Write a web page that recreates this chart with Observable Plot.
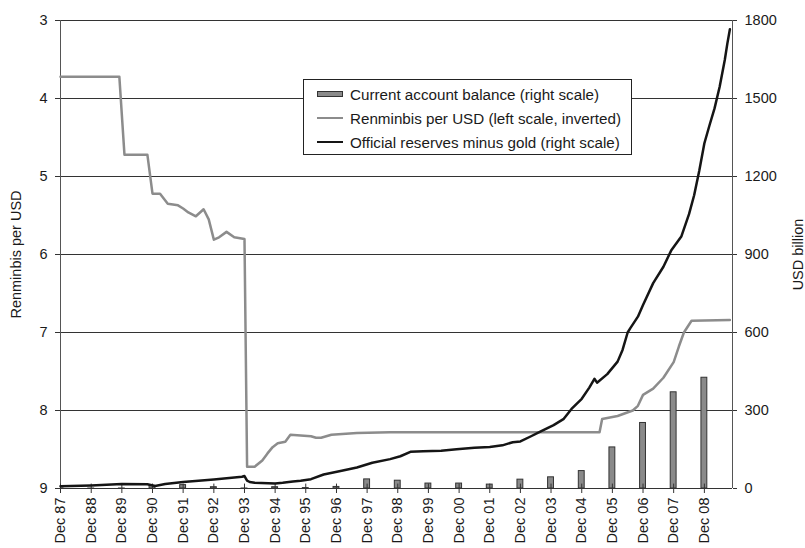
<!DOCTYPE html>
<html><head><meta charset="utf-8">
<script src="https://cdn.jsdelivr.net/npm/d3@7"></script>
<script src="https://cdn.jsdelivr.net/npm/@observablehq/plot@0.6"></script>
<style>
body{margin:0;background:#fff;}
#wrap{position:relative;width:805px;height:548px;font-family:"Liberation Sans",Arial,Helvetica,sans-serif;}
#legend{position:absolute;left:303px;top:79px;width:327px;height:74px;border:1px solid #222;background:#fff;font-size:15.2px;color:#1a1a1a;}
.row{position:absolute;left:0;height:24px;display:flex;align-items:center;white-space:nowrap;}
.sw{width:26px;margin-left:13px;margin-right:7px;box-sizing:border-box;}
</style></head><body><div id="wrap"></div>
<script>
// Renminbis per USD (left scale, inverted)
const rmbDates = ["1987-12","1989-11","1990-01","1990-10","1990-12","1991-03","1991-06","1991-10","1991-12","1992-02","1992-05","1992-08","1992-10","1992-12","1993-02","1993-05","1993-08","1993-12","1994-01","1994-04","1994-07","1994-09","1994-11","1995-01","1995-04","1995-06","1995-10","1996-02","1996-04","1996-06","1996-10","1997-08","1998-09","2005-07","2005-08","2006-02","2006-08","2006-10","2006-12","2007-04","2007-08","2007-12","2008-02","2008-04","2008-07","2009-10"];
const rmbValues = [3.72,3.72,4.72,4.72,5.22,5.22,5.35,5.37,5.41,5.46,5.51,5.42,5.55,5.81,5.78,5.71,5.78,5.80,8.72,8.72,8.64,8.55,8.47,8.42,8.40,8.31,8.32,8.33,8.35,8.35,8.31,8.29,8.28,8.28,8.11,8.07,8.00,7.94,7.80,7.72,7.58,7.38,7.18,7.00,6.85,6.84];
// Official reserves minus gold, USD billion (right scale)
const reserveDates = ["1987-12","1988-12","1989-12","1990-10","1991-01","1991-05","1991-12","1992-12","1993-11","1993-12","1994-01","1994-02","1994-04","1994-12","1995-03","1995-07","1995-10","1996-02","1996-07","1997-02","1997-08","1998-02","1998-09","1999-01","1999-05","1999-10","2000-05","2000-11","2001-06","2001-12","2002-05","2002-09","2002-12","2003-04","2003-08","2004-01","2004-05","2004-08","2004-12","2005-03","2005-05","2005-06","2005-10","2006-02","2006-04","2006-06","2006-07","2006-10","2006-12","2007-04","2007-08","2007-11","2008-03","2008-06","2008-08","2008-10","2008-12","2009-02","2009-04","2009-06","2009-08","2009-09","2009-10"];
const reserveValues = [9,12,17,16,10,17,25,35,45,48,30,25,22,19,22,27,30,36,54,68,81,99,113,124,141,143,145,151,157,160,166,178,181,200,220,244,268,306,345,388,422,407,440,488,533,600,616,661,706,790,853,915,969,1055,1128,1222,1328,1398,1462,1545,1648,1712,1766];
// Current account balance, USD billion (right scale), plotted at December
const caYears = [1987,1988,1989,1990,1991,1992,1993,1994,1995,1996,1997,1998,1999,2000,2001,2002,2003,2004,2005,2006,2007,2008];
const caValues = [0.3,-3.8,-4.3,10,13,5,-11.6,5,1.6,6,35,30,19,19,15,34,43,67,158,252,370,426];
// Axis ticks
const tickYears = [1987,1988,1989,1990,1991,1992,1993,1994,1995,1996,1997,1998,1999,2000,2001,2002,2003,2004,2005,2006,2007,2008];
const rightTicks = [0,300,600,900,1200,1500,1800];

const parse = d3.utcParse("%Y-%m");
const rmb = rmbDates.map((d,i)=>({date:parse(d), v:rmbValues[i]}));
const res = reserveDates.map((d,i)=>({date:parse(d), v:reserveValues[i]}));
const dec = y => new Date(Date.UTC(y,11,1));
const DAY = 864e5;
const ca = caYears.map((y,i)=>({x1:new Date(+dec(y)-35*DAY), x2:new Date(+dec(y)+35*DAY), v:caValues[i]}));
const ticks = tickYears.map(dec);
const start = dec(1987), end = new Date(Date.UTC(2009,10,1));
const toRight = v => (9 - v) * 300; // left scale 9..3 inverted onto 0..1800

const chart = Plot.plot({
  width: 805, height: 548,
  marginLeft: 60, marginRight: 73, marginTop: 20, marginBottom: 60,
  style: {fontFamily: '"Liberation Sans", Arial, Helvetica, sans-serif', fontSize: "14.5px", color: "#1a1a1a", background: "#fff", overflow: "visible"},
  x: {type: "utc", domain: [start, end]},
  y: {domain: [0, 1800]},
  marks: [
    Plot.ruleY(rightTicks, {stroke: "#333", strokeWidth: 1}),
    Plot.ruleX([start, end], {stroke: "#555", strokeWidth: 1}),
    Plot.rectY(ca, {x1: "x1", x2: "x2", y1: 0, y2: "v", fill: "#8a8a8a", stroke: "#333", strokeWidth: 1, clip: true}),
    Plot.ruleX(ticks, {y1: 0, y2: 17, stroke: "#333", strokeWidth: 1}),
    Plot.line(rmb, {x: "date", y: d => toRight(d.v), stroke: "#8c8c8c", strokeWidth: 2.5}),
    Plot.line(res, {x: "date", y: "v", stroke: "#151515", strokeWidth: 2.5}),
    Plot.axisX({ticks: ticks, tickFormat: d => "Dec " + String(d.getUTCFullYear()).slice(2), tickRotate: -90, tickSize: 5, tickPadding: 4, label: null, stroke: "#333"}),
    Plot.axisY({anchor: "left", ticks: rightTicks, tickFormat: d => 9 - d/300, tickSize: 5, tickPadding: 8, label: "Renminbis per USD", labelAnchor: "center", labelOffset: 50, labelArrow: "none", stroke: "#333"}),
    Plot.axisY({anchor: "right", ticks: rightTicks, tickFormat: d => String(d), tickSize: 4, tickPadding: 8, label: "USD billion", labelAnchor: "center", labelOffset: 70, labelArrow: "none", stroke: "#333"})
  ]
});
const wrap = document.getElementById("wrap");
wrap.appendChild(chart);

const legend = document.createElement("div");
legend.id = "legend";
const items = [
  {label: "Current account balance (right scale)", css: "height:6px;background:#8a8a8a;border:1px solid #333;"},
  {label: "Renminbis per USD (left scale, inverted)", css: "height:2.5px;background:#8c8c8c;"},
  {label: "Official reserves minus gold (right scale)", css: "height:2.5px;background:#151515;"}
];
items.forEach((it, i) => {
  const row = document.createElement("div");
  row.className = "row";
  row.style.top = (2 + i*24) + "px";
  const sw = document.createElement("div");
  sw.className = "sw";
  sw.style.cssText += it.css;
  const t = document.createElement("span");
  t.textContent = it.label;
  row.appendChild(sw); row.appendChild(t);
  legend.appendChild(row);
});
wrap.appendChild(legend);
</script></body></html>
